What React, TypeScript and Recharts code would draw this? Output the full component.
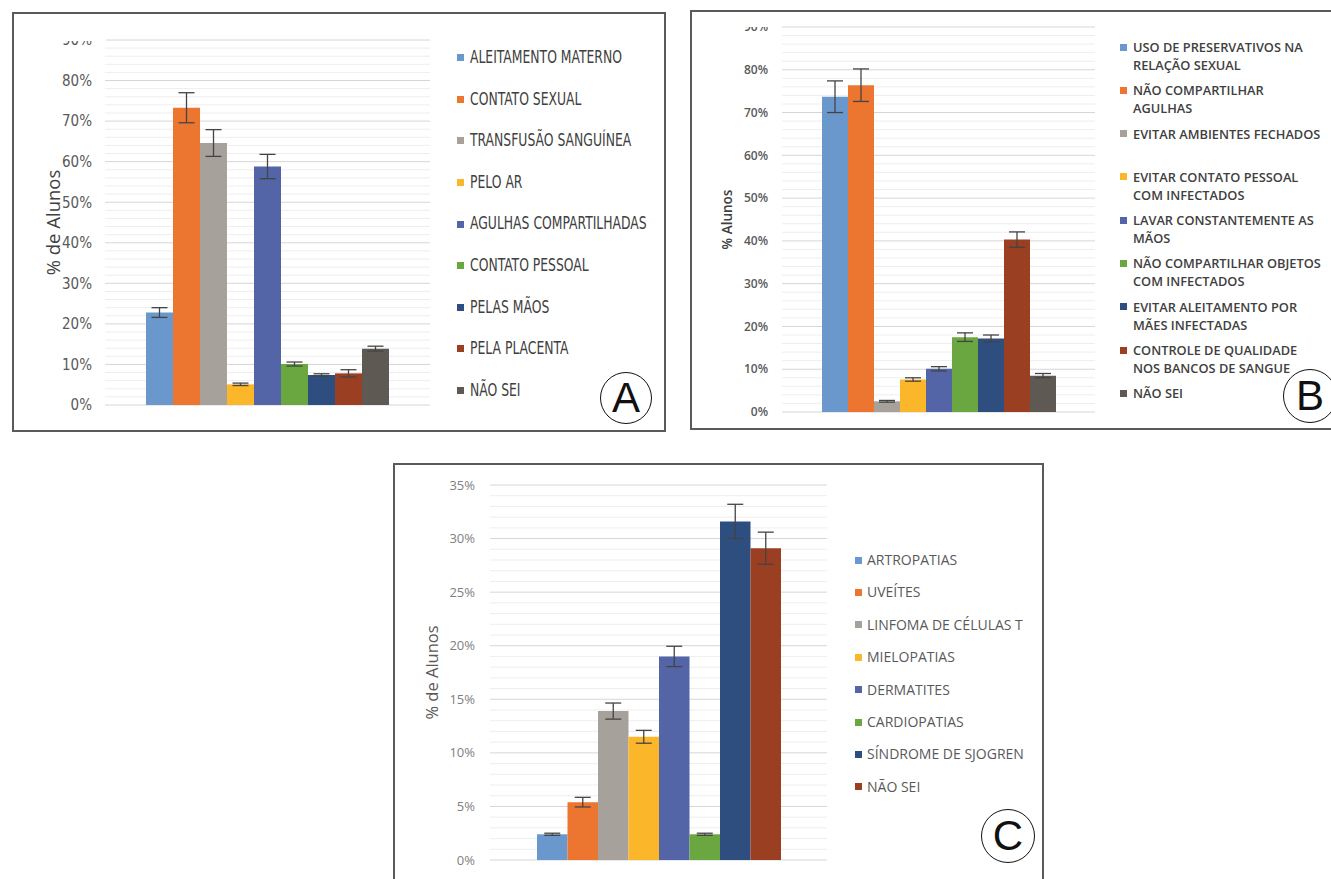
import { Bar, BarChart, CartesianGrid, ErrorBar, Legend, XAxis, YAxis } from "recharts"

const palette = ["#6b98cc", "#ec7530", "#a7a19c", "#fbb62a", "#5465a7", "#6ba741", "#2d4e7e", "#9b3f22", "#5f5954"]

// A: vias de transmissão
const viasNames = [
  "ALEITAMENTO MATERNO",
  "CONTATO SEXUAL",
  "TRANSFUSÃO SANGUÍNEA",
  "PELO AR",
  "AGULHAS COMPARTILHADAS",
  "CONTATO PESSOAL",
  "PELAS MÃOS",
  "PELA PLACENTA",
  "NÃO SEI",
]
const viasValues = [22.8, 73.3, 64.6, 5.1, 58.8, 10.1, 7.4, 7.8, 13.9]
const viasErrors = [1.2, 3.7, 3.3, 0.3, 3.0, 0.5, 0.3, 0.9, 0.6]
const viasTicks = [0, 10, 20, 30, 40, 50, 60, 70, 80, 90]

// B: formas de prevenção
const prevNames = [
  "USO DE PRESERVATIVOS NA\nRELAÇÃO SEXUAL",
  "NÃO COMPARTILHAR\nAGULHAS",
  "EVITAR AMBIENTES FECHADOS",
  "EVITAR CONTATO PESSOAL\nCOM INFECTADOS",
  "LAVAR CONSTANTEMENTE AS\nMÃOS",
  "NÃO COMPARTILHAR OBJETOS\nCOM INFECTADOS",
  "EVITAR ALEITAMENTO POR\nMÃES INFECTADAS",
  "CONTROLE DE QUALIDADE\nNOS BANCOS DE SANGUE",
  "NÃO SEI",
]
const prevValues = [73.7, 76.4, 2.5, 7.6, 10.1, 17.5, 17.2, 40.3, 8.5]
const prevErrors = [3.7, 3.8, 0.2, 0.4, 0.5, 1.0, 0.8, 1.8, 0.5]
const prevTicks = [0, 10, 20, 30, 40, 50, 60, 70, 80, 90]

// C: doenças associadas
const doencasNames = [
  "ARTROPATIAS",
  "UVEÍTES",
  "LINFOMA DE CÉLULAS T",
  "MIELOPATIAS",
  "DERMATITES",
  "CARDIOPATIAS",
  "SÍNDROME DE SJOGREN",
  "NÃO SEI",
]
const doencasValues = [2.4, 5.4, 13.9, 11.5, 19.0, 2.4, 31.6, 29.1]
const doencasErrors = [0.1, 0.45, 0.75, 0.6, 0.95, 0.1, 1.6, 1.5]
const doencasTicks = [0, 5, 10, 15, 20, 25, 30, 35]

function minorLines(ticks: number[], parts: number) {
  const out: number[] = []
  for (let i = 0; i < ticks.length - 1; i++) {
    const step = (ticks[i + 1] - ticks[i]) / parts
    for (let k = 1; k < parts; k++) out.push(ticks[i] + step * k)
  }
  return out
}

type Font = { family: string; size: number; color: string; weight?: number }

function Panel(p: any) {
  const row: any = { name: "grupo" }
  p.names.forEach((n: string, i: number) => {
    row["v" + i] = p.values[i]
    row["e" + i] = p.errors[i]
  })
  const lf: Font = p.legendFont
  const legendContent = (props: any) => (
    <div style={{ fontFamily: lf.family, fontSize: lf.size, color: lf.color, fontWeight: lf.weight ?? 400 }}>
      {(props.payload || []).map((item: any) => (
        <div key={item.value} style={{ height: p.rowHeight, display: "flex", alignItems: "flex-start" }}>
          <span
            style={{
              width: p.square,
              height: p.square,
              background: item.color,
              flexShrink: 0,
              marginRight: p.squareGap,
              marginTop: (p.lineHeight - p.square) / 2,
            }}
          />
          <span
            style={{
              whiteSpace: "pre",
              lineHeight: `${p.lineHeight}px`,
              display: "inline-block",
              transform: p.squeeze ? `scaleX(${p.squeeze})` : undefined,
              transformOrigin: "left center",
            }}
          >
            {item.value}
          </span>
        </div>
      ))}
    </div>
  )
  const tf: Font = p.tickFont
  const yf: Font = p.labelFont
  return (
    <div
      style={{
        position: "absolute",
        left: p.left,
        top: p.top,
        width: p.width,
        height: p.height,
        border: "2px solid #5a5a5a",
        boxSizing: "border-box",
        background: "#fff",
      }}
    >
      <div style={{ position: "absolute", left: -2, top: -2 }}>
        <BarChart width={p.width} height={p.height} data={[row]} margin={p.margin} barGap={0} barSize={p.barSize}>
          <CartesianGrid vertical={false} horizontalValues={minorLines(p.ticks, p.minorParts)} stroke="#eeeeee" />
          <CartesianGrid vertical={false} horizontalValues={p.ticks} stroke="#d6d6d6" />
          <XAxis dataKey="name" hide />
          <YAxis
            domain={[0, p.ticks[p.ticks.length - 1]]}
            ticks={p.ticks}
            interval={0}
            tickFormatter={(v) => `${v}%`}
            axisLine={false}
            tickLine={false}
            tickSize={0}
            tickMargin={p.tickMargin}
            width={p.axisWidth}
            tick={{ fill: tf.color, fontSize: tf.size, fontFamily: tf.family, fontWeight: tf.weight ?? 400 }}
            label={{
              value: p.yLabel,
              angle: -90,
              position: "insideLeft",
              offset: p.labelX,
              fill: yf.color,
              fontSize: yf.size,
              fontFamily: yf.family,
              fontWeight: yf.weight ?? 400,
              style: { textAnchor: "middle" },
            }}
          />
          <Legend
            layout="vertical"
            align="center"
            verticalAlign="middle"
            itemSorter={(item: any) => Number(String(item.dataKey).slice(1))}
            wrapperStyle={{ left: p.legendLeft, top: p.legendTop, width: p.legendWidth }}
            content={legendContent}
          />
          {p.names.map((n: string, i: number) => (
            <Bar key={n} dataKey={"v" + i} name={n} fill={palette[i]} isAnimationActive={false}>
              <ErrorBar dataKey={"e" + i} width={8} stroke="#444" strokeWidth={1.3} />
            </Bar>
          ))}
        </BarChart>
      </div>
      {p.crop && <div style={{ position: "absolute", background: "#fff", ...p.crop }} />}
      <div
        style={{
          position: "absolute",
          left: p.circle.x - p.circle.r - 2,
          top: p.circle.y - p.circle.r - 2,
          width: p.circle.r * 2,
          height: p.circle.r * 2,
          border: "1.5px solid #111",
          borderRadius: "50%",
          boxSizing: "border-box",
          display: "flex",
          alignItems: "center",
          justifyContent: "center",
          fontFamily: "'Liberation Sans', Arial, sans-serif",
          fontSize: 42,
          color: "#111",
          lineHeight: 1,
        }}
      >
        {p.letter}
      </div>
    </div>
  )
}

const narrow = "'DejaVu Sans Condensed', sans-serif"
const open = "'Open Sans', sans-serif"

export default function App() {
  return (
    <div style={{ position: "fixed", left: 0, top: 0, width: 1331, height: 879, overflow: "hidden", background: "#fff" }}>
      <Panel
        left={12}
        top={12}
        width={654}
        height={420}
        names={viasNames}
        values={viasValues}
        errors={viasErrors}
        ticks={viasTicks}
        minorParts={5}
        margin={{ top: 28, right: 236, bottom: 27, left: 0 }}
        axisWidth={93}
        tickMargin={13}
        barSize={27}
        tickFont={{ family: narrow, size: 15, color: "#595959" }}
        yLabel="% de Alunos"
        labelX={41}
        labelFont={{ family: open, size: 18.5, color: "#404040" }}
        legendFont={{ family: narrow, size: 17, color: "#404040" }}
        squeeze={0.81}
        legendLeft={445}
        legendTop={25}
        legendWidth={220}
        rowHeight={41.6}
        lineHeight={41.6}
        square={7}
        squareGap={6}
        crop={{ left: 40, top: 0, width: 52, height: 27 }}
        circle={{ x: 614, y: 386, r: 26 }}
        letter="A"
      />
      <Panel
        left={690}
        top={10}
        width={645}
        height={420}
        names={prevNames}
        values={prevValues}
        errors={prevErrors}
        ticks={prevTicks}
        minorParts={5}
        margin={{ top: 17, right: 240, bottom: 18, left: 0 }}
        axisWidth={92}
        tickMargin={14}
        barSize={26}
        tickFont={{ family: open, size: 12, color: "#595959", weight: 600 }}
        yLabel="% Alunos"
        labelX={37}
        labelFont={{ family: open, size: 13.5, color: "#404040", weight: 600 }}
        legendFont={{ family: open, size: 12.8, color: "#404040", weight: 600 }}
        legendLeft={430}
        legendTop={28}
        legendWidth={215}
        rowHeight={43.3}
        lineHeight={18}
        square={7}
        squareGap={6}
        crop={{ left: 40, top: 0, width: 50, height: 15 }}
        circle={{ x: 620, y: 386, r: 27 }}
        letter="B"
      />
      <Panel
        left={393}
        top={463}
        width={651}
        height={430}
        names={doencasNames}
        values={doencasValues}
        errors={doencasErrors}
        ticks={doencasTicks}
        minorParts={5}
        margin={{ top: 22, right: 217, bottom: 33, left: 0 }}
        axisWidth={97}
        tickMargin={15}
        barSize={30.5}
        tickFont={{ family: open, size: 13, color: "#7f7f7f" }}
        yLabel="% de Alunos"
        labelX={39}
        labelFont={{ family: open, size: 16.5, color: "#595959" }}
        legendFont={{ family: open, size: 14, color: "#595959" }}
        legendLeft={462}
        legendTop={81}
        legendWidth={185}
        rowHeight={32.4}
        lineHeight={32.4}
        square={7}
        squareGap={5}
        circle={{ x: 615, y: 373, r: 27 }}
        letter="C"
      />
    </div>
  )
}
